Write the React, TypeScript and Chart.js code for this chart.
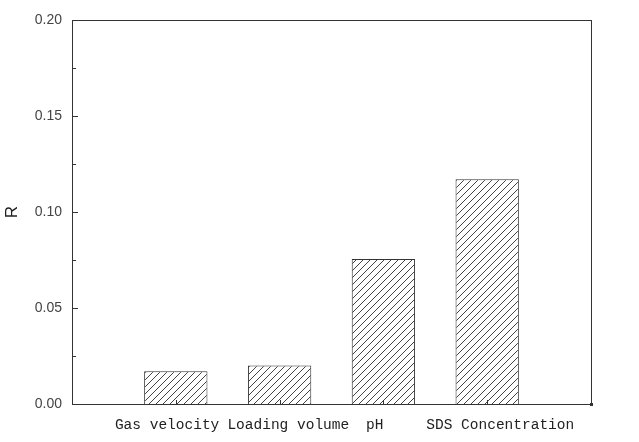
import React, { useEffect, useRef } from 'react';
import { Chart, registerables } from 'chart.js';

Chart.register(...registerables);

const categories = ['', 'Gas velocity', 'Loading volume', 'pH', 'SDS Concentration', ''];
const rValues: (number | null)[] = [null, 0.017, 0.02, 0.0755, 0.117, null];
const yMin = 0;
const yMax = 0.2;
const yStep = 0.05;
const yAxisTitle = 'R';

// nudge of each x label, in character cells (negative = left), to echo the original's placement
const labelNudge = [0, -2, 2, -2, 3, 0];

function makeHatch(ctx: CanvasRenderingContext2D): CanvasPattern | string {
  const s = 7;
  const c = document.createElement('canvas');
  c.width = s;
  c.height = s;
  const g = c.getContext('2d');
  if (!g) return '#fff';
  g.fillStyle = '#ffffff';
  g.fillRect(0, 0, s, s);
  g.strokeStyle = '#444';
  g.lineWidth = 1;
  g.beginPath();
  g.moveTo(0, s);
  g.lineTo(s, 0);
  g.moveTo(-1, 1);
  g.lineTo(1, -1);
  g.moveTo(s - 1, s + 1);
  g.lineTo(s + 1, s - 1);
  g.stroke();
  return ctx.createPattern(c, 'repeat') || '#fff';
}

const framePlugin = {
  id: 'frame',
  afterDatasetsDraw(chart: any) {
    const { ctx, chartArea, scales } = chart;
    const { left, right, top, bottom } = chartArea;
    const y = scales.y;
    const x = scales.x;
    ctx.save();
    ctx.strokeStyle = '#333';
    ctx.lineWidth = 1;
    ctx.strokeRect(Math.round(left) + 0.5, Math.round(top) + 0.5, Math.round(right - left), Math.round(bottom - top));
    ctx.beginPath();
    const ticks = y.ticks.map((t: any) => t.value);
    for (let i = 0; i < ticks.length; i++) {
      const py = Math.round(y.getPixelForValue(ticks[i])) + 0.5;
      ctx.moveTo(left, py);
      ctx.lineTo(left + 6, py);
      if (i < ticks.length - 1) {
        const pm = Math.round(y.getPixelForValue((ticks[i] + ticks[i + 1]) / 2)) + 0.5;
        ctx.moveTo(left, pm);
        ctx.lineTo(left + 4, pm);
      }
    }
    for (let i = 1; i < categories.length - 1; i++) {
      const px = Math.round(x.getPixelForValue(i)) + 0.5;
      ctx.moveTo(px, bottom);
      ctx.lineTo(px, bottom - 4);
    }
    ctx.stroke();
    ctx.fillStyle = '#333';
    ctx.fillRect(Math.round(right) - 1, Math.round(bottom) - 1, 3, 3);
    ctx.restore();
  },
};

export default function App() {
  const ref = useRef<HTMLCanvasElement | null>(null);
  useEffect(() => {
    const canvas = ref.current;
    if (!canvas) return;
    const ctx = canvas.getContext('2d');
    if (!ctx) return;
    const hatch = makeHatch(ctx);
    const chart = new Chart(canvas, {
      type: 'bar',
      data: {
        labels: categories,
        datasets: [
          {
            label: yAxisTitle,
            data: rValues,
            backgroundColor: hatch as any,
            borderColor: '#333',
            borderWidth: 1,
            categoryPercentage: 1,
            barPercentage: 0.61,
          },
        ],
      },
      options: {
        responsive: false,
        animation: false,
        layout: { padding: { left: 0, right: 48, top: 20, bottom: 0 } },
        plugins: { legend: { display: false }, tooltip: { enabled: false } },
        scales: {
          x: {
            offset: false,
            grid: { display: false, drawTicks: false },
            border: { display: false },
            ticks: {
              autoSkip: false,
              maxRotation: 0,
              padding: 12,
              color: '#222',
              font: { family: '"Liberation Mono", monospace', size: 14.5 },
              callback: (_v: any, i: number) => {
                const t = categories[i] || '';
                const n = labelNudge[i] || 0;
                return n < 0 ? t + ' '.repeat(-n) : ' '.repeat(n) + t;
              },
            },
            afterFit: (s: any) => {
              s.height = 38;
            },
          },
          y: {
            min: yMin,
            max: yMax,
            grid: { display: false, drawTicks: false },
            border: { display: false },
            ticks: {
              stepSize: yStep,
              padding: 10,
              color: '#444',
              font: { family: '"Liberation Sans", Arial, sans-serif', size: 14 },
              callback: (v: any) => Number(v).toFixed(2),
            },
            title: {
              display: true,
              text: yAxisTitle,
              color: '#222',
              padding: { top: 2, bottom: 0 },
              font: { family: '"Liberation Sans", Arial, sans-serif', size: 17 },
            },
            afterFit: (s: any) => {
              s.width = 72;
            },
          },
        },
      },
      plugins: [framePlugin],
    });
    return () => chart.destroy();
  }, []);
  return (
    <div style={{ position: 'fixed', left: 0, top: 0, width: 639, height: 442, background: '#fff' }}>
      <canvas ref={ref} width={639} height={442} />
    </div>
  );
}
